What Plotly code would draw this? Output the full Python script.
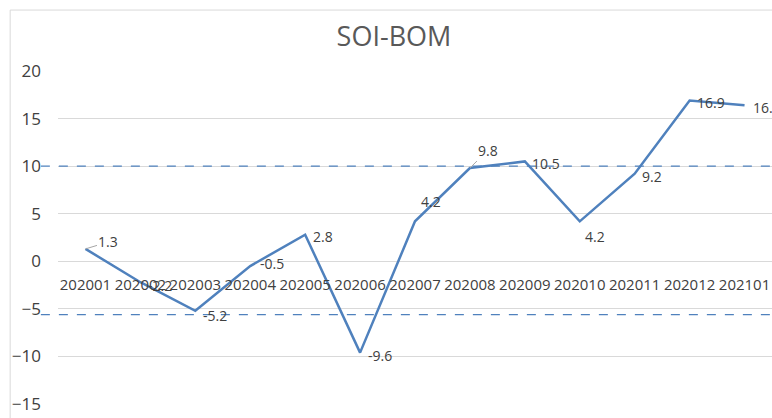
import plotly.graph_objects as go

categories = ["202001", "202002", "202003", "202004", "202005", "202006", "202007",
              "202008", "202009", "202010", "202011", "202012", "202101"]
soi_values = [1.3, -2.2, -5.2, -0.5, 2.8, -9.6, 4.2, 9.8, 10.5, 4.2, 9.2, 16.9, 16.4]
upper_threshold = 10
lower_threshold = -5.6
y_ticks = [20, 15, 10, 5, 0, -5, -10, -15]

# label offsets (pixels, label centre relative to point); style only
label_dx = [23, 20, 20, 22, 18, 20, 16, 18, 21, 15, 17, 21, 22]
label_dy = [-7, 3, 5, -3, 2, 3, -20, -18, 2, 15, 3, 2, 2]
leader = [True, False, False, False, False, False, False, True, False, False, False, False, False]

FONT = "Open Sans, Liberation Sans, sans-serif"
LINE_COLOR = "#4F81BD"
TEXT_COLOR = "#404040"

fig = go.Figure()
fig.add_trace(go.Scatter(
    x=categories, y=soi_values, mode="lines",
    line=dict(color=LINE_COLOR, width=2.5),
    showlegend=False, hoverinfo="x+y",
))

annotations = []
for i, (v, dx, dy, ld) in enumerate(zip(soi_values, label_dx, label_dy, leader)):
    a = dict(x=i, y=v, xref="x", yref="y", text=f"{v:g}",
             xanchor="center", yanchor="middle",
             font=dict(family=FONT, size=14, color=TEXT_COLOR))
    if ld:
        a.update(showarrow=True, arrowhead=0, arrowwidth=1, arrowcolor="#A6A6A6", ax=dx, ay=dy)
    else:
        a.update(showarrow=False, xshift=dx, yshift=-dy)
    annotations.append(a)

shapes = []
# threshold dashed lines
for yv in [upper_threshold, lower_threshold]:
    shapes.append(dict(type="line", xref="paper", yref="y", x0=-0.024, x1=1.01, y0=yv, y1=yv,
                       line=dict(color="#4F81BD", width=1.2, dash="dash"), layer="above"))
# chart border (left & top)
shapes.append(dict(type="line", xref="paper", yref="paper", x0=-0.067, x1=-0.067, y0=-0.1, y1=1.183,
                   line=dict(color="#D9D9D9", width=1)))
shapes.append(dict(type="line", xref="paper", yref="paper", x0=-0.067, x1=1.1, y0=1.183, y1=1.183,
                   line=dict(color="#D9D9D9", width=1)))

ymin, ymax = -15, 20
fig.update_layout(
    width=772, height=418,
    margin=dict(l=58, r=0, t=71, b=14),
    paper_bgcolor="white", plot_bgcolor="white",
    annotations=annotations, shapes=shapes,
    title=dict(text="SOI-BOM", x=394 / 772, xanchor="center", y=1 - 37 / 418, yanchor="middle",
               font=dict(family=FONT, size=27, color="#595959")),
    xaxis=dict(
        type="category", range=[-0.5, 12.5],
        anchor="free", position=(0 - ymin) / (ymax - ymin),
        showgrid=False, showline=False, zeroline=False, ticks="",
        ticklabelstandoff=13,
        tickfont=dict(family=FONT, size=15, color=TEXT_COLOR),
    ),
    yaxis=dict(
        range=[ymin, ymax], tickvals=y_ticks,
        showgrid=True, gridcolor="#D9D9D9", gridwidth=1,
        zeroline=True, zerolinecolor="#D9D9D9", zerolinewidth=1,
        showline=False, ticks="", ticklabelstandoff=16,
        tickfont=dict(family=FONT, size=17, color=TEXT_COLOR),
    ),
)

fig.write_html(
    "out.html",
    config={"displayModeBar": False},
    post_script="document.body.style.margin='0';document.body.style.overflow='hidden';",
)
